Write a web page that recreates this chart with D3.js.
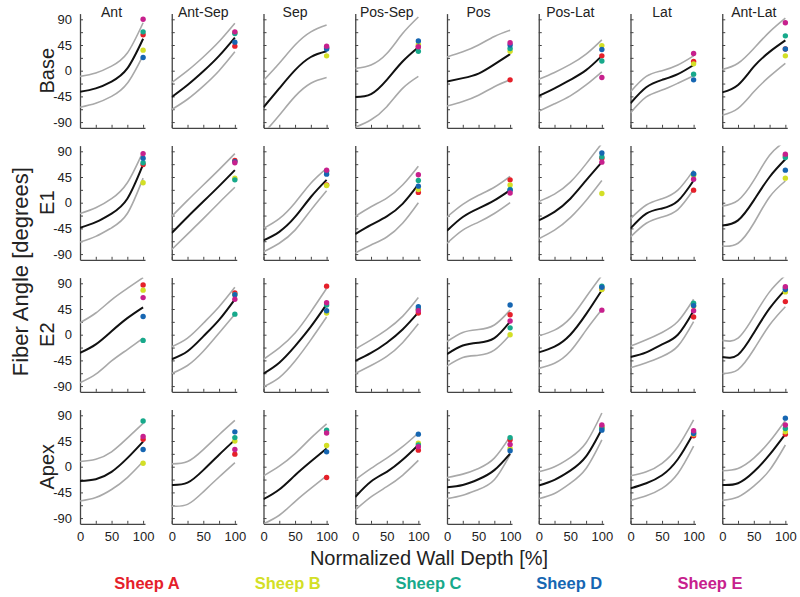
<!DOCTYPE html>
<html>
<head>
<meta charset="utf-8">
<script src="https://cdn.jsdelivr.net/npm/d3@7"></script>
<style>
  body { margin: 0; background: #fff; }
  text { font-family: "Liberation Sans", Arial, Helvetica, sans-serif; fill: #222; }
</style>
</head>
<body>
<div id="chart"></div>
<script>
'use strict'

// regions (columns), levels (rows), animals
const regions = ["Ant", "Ant-Sep", "Sep", "Pos-Sep", "Pos", "Pos-Lat", "Lat", "Ant-Lat"];
const levels = ["Base", "E1", "E2", "Apex"];
const sheep = ["Sheep A", "Sheep B", "Sheep C", "Sheep D", "Sheep E"];
const depths = [0, 25, 50, 75, 100];

// mean fiber angle at each depth, one row per region
const baseMean = [[-37,-31,-19,4,56],[-46,-25,-1,26,58],[-64,-31,1,24,34],[-46,-41,-16,16,41],[-19,-13,-5,11,29],[-44,-31,-16,1,26],[-57,-29,-16,-6,10],[-38,-25,7,33,53]];
const baseUpper = [[-10,-4,8,31,84],[-21,0,24,51,83],[-17,13,45,68,80],[4,10,30,65,94],[24,33,45,60,71],[-15,-3,11,29,54],[-37,-10,0,10,26],[2,13,39,68,92]];
const baseLower = [[-64,-57,-45,-22,27],[-68,-50,-27,0,33],[-110,-78,-45,-22,-12],[-99,-86,-63,-31,-10],[-62,-54,-43,-28,-16],[-71,-58,-44,-25,-2],[-74,-46,-34,-22,-9],[-78,-66,-37,-10,13]];
const baseSheep = [[63,36,68,23,90],[43,67,65,50,68],[40,26,40,38,43],[42,46,34,52,42],[-16,34,39,45,49],[26,44,17,37,-12],[16,12,-6,-16,30],[38,26,61,38,84]];

const e1Mean = [[-44,-34,-19,7,67],[-53,-25,2,29,57],[-66,-51,-25,10,40],[-55,-39,-24,-2,32],[-49,-25,-10,4,22],[-31,-16,7,39,71],[-45,-19,-10,3,39],[-40,-31,4,45,76]];
const e1Upper = [[-19,-9,7,35,90],[-24,4,31,58,86],[-45,-28,0,34,60],[-24,-7,8,31,64],[-25,-3,13,27,46],[2,15,36,68,104],[-28,-4,7,22,57],[-6,4,39,83,108]];
const e1Lower = [[-69,-59,-44,-19,43],[-82,-55,-28,0,27],[-86,-71,-48,-13,21],[-88,-74,-60,-36,0],[-71,-48,-34,-19,0],[-63,-48,-26,4,39],[-60,-36,-25,-12,23],[-76,-71,-36,10,38]];
const e1Sheep = [[67,35,70,78,86],[74,43,40,72,70],[31,30,55,50,57],[18,23,39,29,49],[40,31,23,22,17],[78,16,80,87,71],[22,48,50,51,41],[82,43,79,57,85]];

const e2Mean = [[-32,-17,6,29,48],[-43,-29,-3,26,62],[-68,-49,-20,14,53],[-46,-32,-14,9,39],[-34,-19,-14,-6,23],[-31,-21,0,36,78],[-39,-31,-17,0,42],[-39,-35,3,46,79]];
const e2Upper = [[21,38,61,81,100],[-21,-6,20,49,83],[-43,-23,3,40,81],[-25,-9,9,32,65],[-12,4,9,17,43],[-2,8,29,66,104],[-20,-9,4,23,62],[-10,-6,32,75,104]];
const e2Lower = [[-84,-69,-46,-26,-6],[-68,-54,-29,3,36],[-91,-75,-46,-9,31],[-68,-54,-38,-14,19],[-55,-40,-36,-27,0],[-59,-50,-29,8,44],[-58,-49,-38,-20,23],[-68,-61,-26,17,49]];
const e2Sheep = [[87,78,-10,32,65],[73,70,36,70,62],[85,38,52,42,56],[38,44,45,49,42],[35,0,12,52,24],[80,79,85,83,43],[31,50,55,51,42],[58,75,82,79,84]];

const apexMean = [[-25,-22,-9,15,44],[-32,-28,-6,21,47],[-57,-40,-15,9,32],[-53,-26,-9,12,38],[-36,-32,-22,-6,23],[-33,-23,-7,18,66],[-38,-29,-15,13,59],[-32,-29,-9,21,57]];
const apexUpper = [[9,13,26,50,76],[5,9,30,56,81],[-16,1,23,50,75],[-23,-3,15,35,59],[-19,-13,-3,15,53],[-9,0,16,42,94],[-16,-9,6,35,82],[-7,-3,15,44,81]];
const apexLower = [[-60,-54,-40,-19,9],[-69,-66,-44,-18,7],[-100,-85,-61,-38,-16],[-76,-53,-35,-15,11],[-56,-50,-40,-23,21],[-56,-47,-29,-3,47],[-59,-51,-38,-12,36],[-59,-53,-34,-6,38]];
const apexSheep = [[48,6,80,30,53],[22,45,51,61,30],[-19,37,64,26,59],[29,41,38,57,35],[47,32,51,28,39],[70,68,67,64,73],[54,57,60,58,63],[57,61,67,85,73]];

const yTicks = [-90, -67.5, -45, -22.5, 0, 22.5, 45, 67.5, 90];
const xTicks = [0, 25, 50, 75, 100];

////////////////////////////////////////
/////////////// Options ////////////////
////////////////////////////////////////

const options = {
  width: 800,
  height: 597,
  left: 80,
  colStep: 91.75,
  panelW: 65,
  top: 70.7,
  rowStep: 132,
  halfH: 57.1,
  axis: "#444",
  band: "#a9a9a9",
  mean: "#111",
  radius: 2.7
};

const colors = ["#e5202a", "#d3df26", "#17a98b", "#1666b2", "#c7208d"];

const levelData = [
  { mean: baseMean, upper: baseUpper, lower: baseLower, dots: baseSheep },
  { mean: e1Mean, upper: e1Upper, lower: e1Lower, dots: e1Sheep },
  { mean: e2Mean, upper: e2Upper, lower: e2Lower, dots: e2Sheep },
  { mean: apexMean, upper: apexUpper, lower: apexLower, dots: apexSheep }
];

////////////////////////////////////////
////////////// SVG Setup ///////////////
////////////////////////////////////////

const svg = d3.select('#chart').append('svg')
  .attr('width', options.width)
  .attr('height', options.height);

const defs = svg.append('defs');

////////////////////////////////////////
//////////////// Panels ////////////////
////////////////////////////////////////

levels.forEach((level, r) => {
  const zero = options.top + r * options.rowStep;
  const y = d3.scaleLinear().domain([-100, 100]).range([zero + options.halfH, zero - options.halfH]);

  regions.forEach((region, c) => {
    const x0 = options.left + c * options.colStep;
    const x = d3.scaleLinear().domain([0, 103]).range([x0, x0 + options.panelW]);
    const d = levelData[r];

    const clipId = `clip-${r}-${c}`;
    defs.append('clipPath').attr('id', clipId)
      .append('rect')
      .attr('x', x0).attr('y', y(100))
      .attr('width', options.panelW + 4).attr('height', y(-100) - y(100));

    const g = svg.append('g').classed('panel', true);

    // axes
    const yAxis = d3.axisLeft(y)
      .tickValues(yTicks)
      .tickSizeInner(-3)
      .tickSizeOuter(0)
      .tickPadding(8)
      .tickFormat(v => (c === 0 && v % 45 === 0) ? v : '');

    const xAxis = d3.axisBottom(x)
      .tickValues(xTicks)
      .tickSizeInner(-3)
      .tickSizeOuter(0)
      .tickPadding(8)
      .tickFormat(v => (r === levels.length - 1 && v % 50 === 0) ? v : '');

    const ya = g.append('g').attr('transform', `translate(${x0},0)`).call(yAxis);
    const xa = g.append('g').attr('transform', `translate(0,${y(-100)})`).call(xAxis);

    [ya, xa].forEach(a => {
      a.select('.domain').attr('stroke', options.axis).attr('stroke-width', 1.3);
      a.selectAll('.tick line').attr('stroke', options.axis).attr('stroke-width', 1);
      a.selectAll('.tick text')
        .attr('font-size', 13)
        .attr('font-family', '"Liberation Sans", Arial, sans-serif')
        .attr('fill', '#222');
    });

    // curves
    const line = d3.line()
      .x((v, i) => x(depths[i]))
      .y(v => y(v))
      .curve(d3.curveNatural);

    const curves = g.append('g').attr('clip-path', `url(#${clipId})`);

    [d.upper[c], d.lower[c]].forEach(s => {
      curves.append('path')
        .attr('d', line(s))
        .attr('fill', 'none')
        .attr('stroke', options.band)
        .attr('stroke-width', 1.6);
    });

    curves.append('path')
      .attr('d', line(d.mean[c]))
      .attr('fill', 'none')
      .attr('stroke', options.mean)
      .attr('stroke-width', 2);

    // sheep measurements at the epicardium
    g.selectAll('.dot')
      .data(d.dots[c])
      .join('circle')
      .attr('cx', x(100))
      .attr('cy', v => y(v))
      .attr('r', options.radius)
      .attr('fill', (v, i) => colors[i])
      .classed('dot', true);

    // column titles
    if (r === 0) {
      svg.append('text')
        .attr('x', x(50))
        .attr('y', 17)
        .attr('text-anchor', 'middle')
        .attr('font-size', 14)
        .text(region);
    }
  });

  // row label
  svg.append('text')
    .attr('transform', `translate(47,${zero}) rotate(-90)`)
    .attr('text-anchor', 'middle')
    .attr('dominant-baseline', 'central')
    .attr('font-size', 20)
    .text(level);
});

////////////////////////////////////////
/////////////// Labels /////////////////
////////////////////////////////////////

svg.append('text')
  .attr('transform', `translate(20,${options.top + 1.5 * options.rowStep + 3}) rotate(-90)`)
  .attr('text-anchor', 'middle')
  .attr('dominant-baseline', 'central')
  .attr('font-size', 22)
  .text('Fiber Angle [degrees]');

svg.append('text')
  .attr('x', 429)
  .attr('y', 565)
  .attr('text-anchor', 'middle')
  .attr('font-size', 20)
  .text('Normalized Wall Depth [%]');

const legendX = d3.scalePoint().domain(sheep).range([147, 710]);

svg.selectAll('.legend')
  .data(sheep)
  .join('text')
  .attr('x', d => legendX(d))
  .attr('y', 589)
  .attr('text-anchor', 'middle')
  .attr('font-size', 16.5)
  .attr('font-weight', 'bold')
  .style('fill', (d, i) => colors[i])
  .text(d => d)
  .classed('legend', true);
</script>
</body>
</html>
